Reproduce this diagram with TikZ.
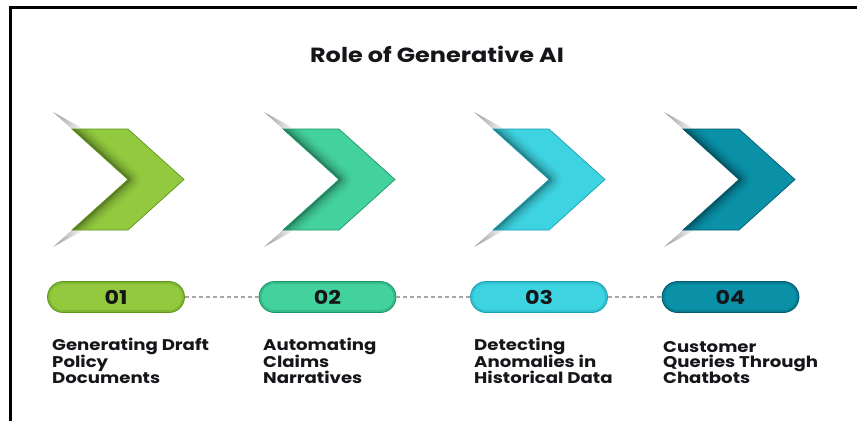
\documentclass[tikz,border=0pt]{standalone}
\usepackage{fontspec}
\setmainfont{Poppins}[FakeStretch=1.17]
\usetikzlibrary{calc}

\definecolor{cA}{RGB}{146,201,62}
\definecolor{cAd}{RGB}{96,150,30}
\definecolor{cB}{RGB}{67,209,158}
\definecolor{cBd}{RGB}{28,150,105}
\definecolor{cC}{RGB}{62,211,225}
\definecolor{cCd}{RGB}{25,160,180}
\definecolor{cD}{RGB}{10,145,168}
\definecolor{cDd}{RGB}{4,90,108}
\definecolor{ink}{RGB}{22,22,26}

% chevron: #1 left x, #2 fill colour, #3 edge colour
\newcommand\drawchev[3]{%
  \shade[left color=black!40, right color=white]
    (#1-19,112) -- (#1,129) -- (#1+12,129) -- cycle;
  \shade[left color=black!40, right color=white]
    (#1-19,247) -- (#1,230) -- (#1+12,230) -- cycle;
  \begin{scope}
    \clip (#1,129) -- (#1+56,129) -- (#1+112,179.5) -- (#1+56,230)
      -- (#1,230) -- (#1+56,179.5) -- cycle;
    \fill[#2] (#1-5,120) rectangle (#1+120,240);
    \foreach \w/\o in {24/0.04,18/0.06,13/0.08,8/0.11,4/0.16}
      \draw[line width=\w, black, opacity=\o, line join=round]
        (#1,129) -- (#1+56,179.5) -- (#1,230);
  \end{scope}
  \draw[#3, line width=0.7, line join=miter]
    (#1,129) -- (#1+56,129) -- (#1+112,179.5) -- (#1+56,230)
    -- (#1,230) -- (#1+56,179.5) -- cycle;
}

\tikzset{
  pill/.style={rectangle, rounded corners=15.5, minimum width=137,
    minimum height=31, outer sep=0, inner sep=0, line width=0.8,
    font=\bfseries\fontsize{19}{19}\selectfont, text=ink},
  desc/.style={anchor=base west, align=left, inner sep=0,
    font=\bfseries\fontsize{15.5}{15.8}\selectfont, text=ink},
  dashline/.style={draw=black!35, line width=1.2, dash pattern=on 4 off 3},
}

\begin{document}
\begin{tikzpicture}[x=1pt,y=-1pt]
  \useasboundingbox (0,0) rectangle (857,421);
  \fill[white] (0,0) rectangle (857,421);

  % frame edges
  \draw[line width=2.6, line join=miter] (857,7.7) -- (10.5,7.7) -- (10.5,421);

  \node[anchor=base, font=\bfseries\fontsize{20.5}{20.5}\selectfont, text=ink]
    (title) at (437,62) {Role of Generative AI};

  % chevrons
  \drawchev{72}{cA}{cAd}
  \drawchev{283}{cB}{cBd}
  \drawchev{493}{cC}{cCd}
  \drawchev{683}{cD}{cDd}

  % numbered pills
  \node[pill, fill=cA, draw=cAd] (p1) at (116,297) {01};
  \node[pill, fill=cB, draw=cBd] (p2) at (327.5,297) {02};
  \node[pill, fill=cC, draw=cCd] (p3) at (539,297) {03};
  \node[pill, fill=cD, draw=cDd] (p4) at (730.5,297) {04};

  \foreach \p/\c in {p1/cAd,p2/cBd,p3/cCd,p4/cDd}{
    \begin{scope}
      \clip[rounded corners=15.5] (\p.south west) rectangle (\p.north east);
      \draw[rounded corners=15.5, \c, line width=5, opacity=0.35]
        (\p.south west) rectangle (\p.north east);
    \end{scope}
  }

  \draw[dashline] (p1.east) -- (p2.west);
  \draw[dashline] (p2.east) -- (p3.west);
  \draw[dashline] (p3.east) -- (p4.west);

  % descriptions (anchored at the baseline of the last line)
  \node[desc] (t1) at (52,383.6) {Generating Draft\\Policy\\Documents};
  \node[desc] (t2) at (263,383.6) {Automating\\Claims\\Narratives};
  \node[desc] (t3) at (474,383.6) {Detecting\\Anomalies in\\Historical Data};
  \node[desc] (t4) at (663,383.6) {Customer\\Queries Through\\Chatbots};
\end{tikzpicture}
\end{document}
